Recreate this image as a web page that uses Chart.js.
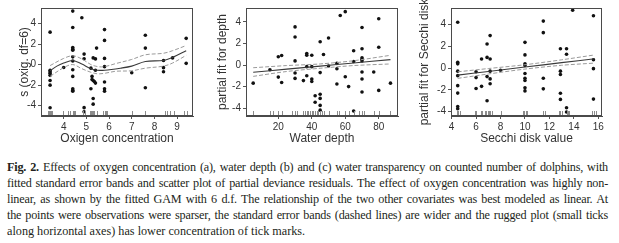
<!DOCTYPE html>
<html>
<head>
<meta charset="utf-8">
<script src="https://cdn.jsdelivr.net/npm/chart.js@4.4.0/dist/chart.umd.min.js"></script>
<style>
  body { margin: 0; background: #fff; width: 619px; height: 243px; position: relative; overflow: hidden; }
  .panel { position: absolute; top: 0; height: 150px; }
  #caption { position: absolute; left: 7px; top: 159px; width: 601px; font-family: "Liberation Serif", serif;
             font-size: 12.2px; line-height: 16px; color: #231f20; }
  #caption div { text-align: justify; text-align-last: justify; letter-spacing: -0.2px; height: 16px; }
  #caption div.last { text-align-last: left; letter-spacing: 0; }
</style>
</head>
<body>
<div class="panel" style="left:0;width:200px"><canvas id="oxyChart"></canvas></div>
<div class="panel" style="left:205px;width:200px"><canvas id="depthChart"></canvas></div>
<div class="panel" style="left:410px;width:209px"><canvas id="secchiChart"></canvas></div>
<div id="caption">
  <div><b>Fig. 2.</b> Effects of oxygen concentration (a), water depth (b) and (c) water transparency on counted number of dolphins, with</div>
  <div>fitted standard error bands and scatter plot of partial deviance residuals. The effect of oxygen concentration was highly non-</div>
  <div>linear, as shown by the fitted GAM with 6 d.f. The relationship of the two other covariates was best modeled as linear. At</div>
  <div>the points were observations were sparser, the standard error bands (dashed lines) are wider and the rugged plot (small ticks</div>
  <div class="last">along horizontal axes) has lower concentration of tick marks.</div>
</div>
<script>
// shared tick labels
const yTicks = [-4, -2, 0, 2, 4];

// (a) oxygen concentration
const oxyX = [3.4, 3.4, 3.4, 3.4, 3.4, 3.4, 3.4, 3.4,
  4.0,
  4.4, 4.4, 4.4, 4.4, 4.4, 4.4, 4.4, 4.4, 4.4, 4.4, 4.4, 4.4,
  4.8, 4.9, 4.9, 4.9, 4.9,
  5.2, 5.2, 5.25, 5.25, 5.3, 5.3, 5.3, 5.3, 5.35, 5.4, 5.4, 5.4, 5.45,
  5.8, 5.8, 5.8, 5.8, 5.8, 5.8, 5.8,
  7.0, 7.6, 7.6, 7.6, 8.4, 8.4, 8.4, 8.8, 9.4, 9.4];
const oxyY = [3.15, -0.55, -0.7, -0.85, -1.05, -1.55, -2.0, -4.2,
  -0.28,
  5.2, 3.6, 1.65, 1.5, 1.4, 0.75, 0.35, -0.5, -1.15, -2.35, -2.5, -2.6,
  4.55, 1.02, 0.56, -4.19, -4.59,
  -0.35, -2.35, -1.15, -1.45, -1.55, -3.3, -3.85, 0.65, -1.65, -1.8, 0.55, -0.55, 1.6,
  3.4, 2.35, 0.6, -0.2, -1.7, -2.35, -2.6,
  -0.8, 2.85, 1.6, -2.25, 0.4, -0.3, -0.7, 0.65, 2.55, 0.12];
const oxyFitX = [3.4, 3.7, 4.0, 4.4, 4.8, 5.2, 5.5, 5.8, 6.5, 7.0, 7.6, 8.4, 8.8, 9.4];
const oxyFit  = [-0.6, -0.15, 0.15, 0.4, 0.05, -0.4, -0.55, -0.55, -0.35, -0.15, 0.3, 0.4, 0.7, 1.35];
const oxyUpX  = [3.4, 4.0, 4.4, 4.8, 5.2, 5.5, 5.8, 6.3, 7.0, 7.6, 8.4, 8.8, 9.4];
const oxyUp   = [-0.1, 0.6, 0.85, 0.55, 0.0, -0.2, -0.2, 0.1, 0.5, 0.95, 1.1, 1.35, 1.85];
const oxyLo   = [-1.15, -0.3, 0.0, -0.4, -0.75, -0.9, -0.85, -0.65, -0.6, -0.35, -0.15, 0.15, 0.9];
const oxyRug  = [3.3, 3.35, 3.4, 3.45, 3.5, 3.95, 4.2, 4.3, 4.4, 4.45, 4.5, 4.85, 4.95,
  5.15, 5.2, 5.25, 5.3, 5.35, 5.45, 5.75, 5.8, 5.85, 5.9, 7.0, 7.6, 8.45, 8.55, 8.7, 8.85, 9.3, 9.45];
const oxyTicks = [4, 5, 6, 7, 8, 9];

// (b) water depth
const depthX = [5, 15, 20, 20, 22, 22,
  30, 30, 30, 30, 30, 35, 37, 37, 37, 37, 40, 40, 40, 40, 42, 42,
  45, 45, 45, 45, 45, 45, 47, 50, 50, 55, 55, 55, 57, 60, 60, 62, 65, 65, 65,
  70, 70, 70, 70, 70, 70, 70, 70, 77, 80, 80, 80, 87];
const depthY = [-1.68, -0.44, 0.76, -1.12, 0.88, -1.62,
  3.53, 2.59, 0.38, -0.74, -1.24, -1.44, 1.06, 0.91, -0.15, -1.0, 0.91, -0.15, -1.29, -1.53, -2.85, -3.44,
  2.15, -0.7, -2.7, -3.09, -3.74, -4.18, 0.97, 2.5, -0.09, 0.15, -0.35, -1.76, 4.59, 4.94, -1.09, -2.0, 1.32, 0.32, -4.26,
  3.47, 1.5, 0.68, 0.53, 0.38, -0.65, -1.29, -2.5, -0.65, 4.29, 1.65, -2.35, -1.68];
const depthFitX = [5, 25, 45, 65, 87];
const depthFit  = [-0.67, -0.38, -0.1, 0.19, 0.5];
const depthUp   = [-0.25, -0.05, 0.1, 0.4, 0.9];
const depthLo   = [-1.05, -0.6, -0.3, -0.05, 0.1];
const depthRug  = [5, 15, 17, 20, 22, 28, 30, 31, 35, 36, 37, 38, 39, 40, 41, 42, 43, 44, 45, 46, 47,
  50, 55, 56, 60, 62, 65, 68, 70, 71, 77, 80, 87];
const depthTicks = [20, 40, 60, 80];

// (c) Secchi disk
const secchiX = [4.5, 4.5, 4.5, 4.5, 4.5, 4.5, 4.5, 4.5, 4.5,
  6.0, 6.0, 6.0, 6.45, 6.45, 6.9, 6.9, 6.9, 6.9, 7.15, 7.15, 7.15, 7.15, 7.15, 8.0,
  10, 10, 10, 10, 10, 10, 10, 10, 10, 11.5, 11.5, 11.5, 11.5,
  12.9, 12.9, 12.9, 12.9, 12.9, 13.4, 13.4, 13.4, 13.4, 13.9, 15.6, 15.6, 15.6, 15.6];
const secchiY = [4.2, 0.53, 0.38, -0.29, -0.7, -1.62, -2.3, -3.53, -3.74,
  -0.35, -0.88, -1.88, 0.82, -1.68, 2.2, 0.97, -0.79, -3.0, 2.97, 0.82, -0.29, -1.0, -1.44, -0.2,
  2.35, 1.2, 0.38, 0.24, -0.5, -0.94, -1.15, -1.82, -2.1, 4.3, 3.24, -0.94, -1.91,
  1.76, -0.29, -0.59, -2.32, -2.88, 1.76, 1.26, -3.65, -4.03, 5.29, 4.79, 0.76, -0.06, -2.85];
const secchiFitX = [4.5, 7, 10, 13, 15.7];
const secchiFit  = [-0.65, -0.32, 0.09, 0.49, 0.85];
const secchiUp   = [-0.35, -0.05, 0.3, 0.75, 1.2];
const secchiLo   = [-0.95, -0.55, -0.1, 0.25, 0.45];
const secchiRug  = [4.4, 4.55, 4.7, 5.9, 6.0, 6.4, 6.5, 6.7, 6.85, 6.95, 7.05, 7.15, 7.3, 8.0,
  9.8, 9.95, 10.05, 10.15, 11.5, 11.6, 12.75, 12.9, 13.0, 13.4, 13.5, 13.6, 15.5, 15.65, 15.8];
const secchiTicks = [4, 6, 8, 10, 12, 14, 16];

const pts = (xs, ys) => xs.map((x, i) => ({ x: x, y: ys[i] }));

// box around the plot + rug along the bottom
const framePlugin = {
  id: 'frame',
  afterDatasetsDraw(chart, args, opts) {
    const { ctx, chartArea: a } = chart;
    const x = chart.scales.x;
    ctx.save();
    ctx.strokeStyle = '#8c8c8c';
    ctx.lineWidth = 1;
    (opts.rug || []).forEach(v => {
      const px = Math.round(x.getPixelForValue(v)) + 0.5;
      ctx.beginPath();
      ctx.moveTo(px, a.bottom);
      ctx.lineTo(px, a.bottom - 5);
      ctx.stroke();
    });
    ctx.strokeStyle = '#4a4a4a';
    ctx.strokeRect(a.left + 0.5, a.top + 0.5, a.width - 1, a.height - 1);
    ctx.restore();
  }
};

const tickFont = { family: 'Liberation Sans', size: 10 };
const titleFont = { family: 'Liberation Sans', size: 12 };

function makeChart(id, cfg) {
  const band = (xs, ys) => ({
    data: pts(xs, ys), showLine: true, pointRadius: 0, borderColor: '#9a9a9a',
    borderWidth: 1, borderDash: [4, 2], tension: cfg.tension, fill: false
  });
  new Chart(document.getElementById(id), {
    type: 'scatter',
    data: {
      datasets: [
        band(cfg.bandX, cfg.up),
        band(cfg.bandX, cfg.lo),
        { data: pts(cfg.fitX, cfg.fit), showLine: true, pointRadius: 0, borderColor: '#3a3a3a',
          borderWidth: 1.1, tension: cfg.tension },
        { data: pts(cfg.x, cfg.y), pointRadius: 1.8, pointBackgroundColor: '#111', pointBorderWidth: 0 }
      ]
    },
    options: {
      responsive: true,
      maintainAspectRatio: false,
      animation: false,
      layout: { padding: { top: 3, right: cfg.padRight, left: 0, bottom: 0 } },
      plugins: { legend: { display: false }, tooltip: { enabled: false }, frame: { rug: cfg.rug } },
      scales: {
        x: {
          type: 'linear', min: cfg.xMin, max: cfg.xMax,
          afterBuildTicks: s => { s.ticks = cfg.xTicks.map(v => ({ value: v })); },
          afterFit: s => { s.height = 34; },
          grid: { drawOnChartArea: false, tickLength: 3, color: '#555' },
          border: { color: '#4a4a4a' },
          ticks: { padding: 2, color: '#333', font: tickFont },
          title: { display: true, text: cfg.xTitle, color: '#333', padding: { top: 0, bottom: 4 }, font: titleFont }
        },
        y: {
          type: 'linear', min: cfg.yMin, max: cfg.yMax,
          afterBuildTicks: s => { s.ticks = yTicks.map(v => ({ value: v })); },
          afterFit: s => { s.width = 41; },
          grid: { drawOnChartArea: false, tickLength: 3, color: '#555' },
          border: { color: '#4a4a4a' },
          ticks: { padding: 2, color: '#333', font: tickFont },
          title: { display: true, text: cfg.yTitle, color: '#333', padding: { top: cfg.yTitlePad, bottom: 0 },
                   font: titleFont }
        }
      }
    },
    plugins: [framePlugin]
  });
}

makeChart('oxyChart', {
  x: oxyX, y: oxyY, fitX: oxyFitX, fit: oxyFit, bandX: oxyUpX, up: oxyUp, lo: oxyLo, rug: oxyRug,
  xTicks: oxyTicks, xMin: 3.0, xMax: 9.7, yMin: -5.0, yMax: 5.5, tension: 0.35, padRight: 7,
  xTitle: 'Oxigen concentration', yTitle: 's (oxig. df=6)', yTitlePad: 17.8
});
makeChart('depthChart', {
  x: depthX, y: depthY, fitX: depthFitX, fit: depthFit, bandX: depthFitX, up: depthUp, lo: depthLo, rug: depthRug,
  xTicks: depthTicks, xMin: 0.7, xMax: 91.5, yMin: -4.72, yMax: 5.28, tension: 0.3, padRight: 7,
  xTitle: 'Water depth', yTitle: 'partial fit for depth', yTitlePad: 10.8
});
makeChart('secchiChart', {
  x: secchiX, y: secchiY, fitX: secchiFitX, fit: secchiFit, bandX: secchiFitX, up: secchiUp, lo: secchiLo, rug: secchiRug,
  xTicks: secchiTicks, xMin: 3.95, xMax: 16.3, yMin: -4.4, yMax: 5.5, tension: 0.3, padRight: 17,
  xTitle: 'Secchi disk value', yTitle: 'partial fit for Secchi disk', yTitlePad: 7.8
});
</script>
</body>
</html>
